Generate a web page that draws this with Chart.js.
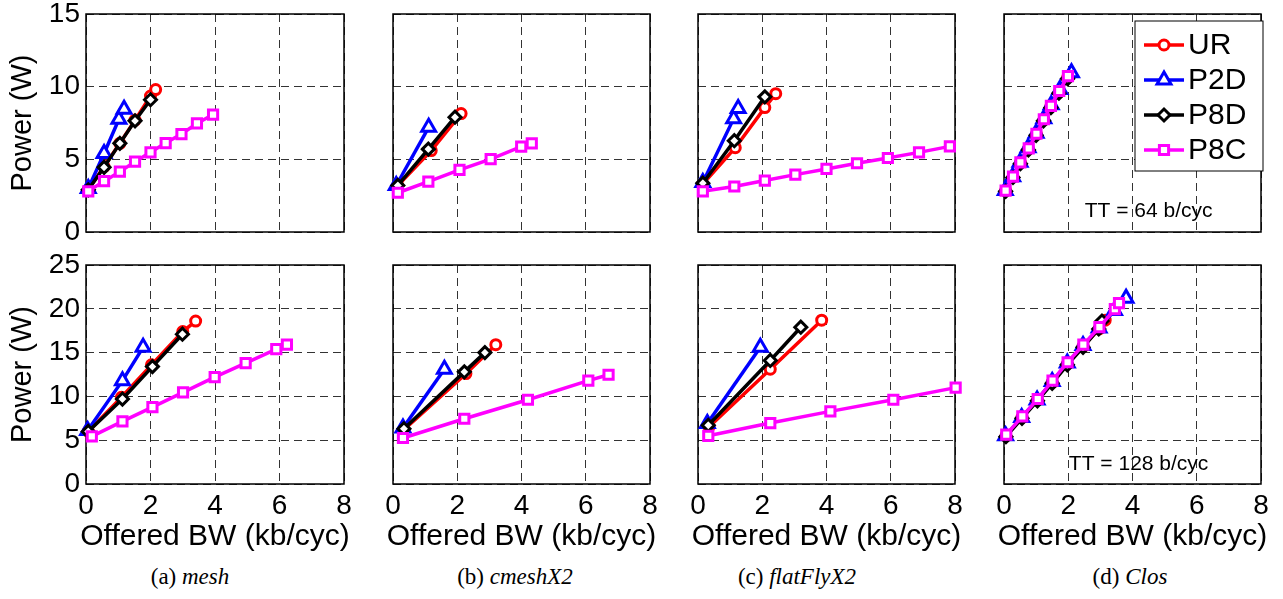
<!DOCTYPE html>
<html>
<head>
<meta charset="utf-8">
<script src="https://cdn.jsdelivr.net/npm/chart.js@4.4.1/dist/chart.umd.min.js"></script>
<style>
  body { margin: 0; background: #fff; width: 1283px; height: 599px; overflow: hidden; position: relative; }
  .panel { position: absolute; }
  .cap { position: absolute; top: 564px; font: 23px "Liberation Serif", "Times New Roman", serif; white-space: nowrap; transform: translateX(-50%); color: #000; }
</style>
</head>
<body>
<script>
// ---- data ----
var seriesNames = ['UR', 'P2D', 'P8D', 'P8C'];
var networks = ['mesh', 'cmeshX2', 'flatFlyX2', 'Clos'];
var letters = ['a', 'b', 'c', 'd'];
var xTicks = [0, 2, 4, 6, 8];
var yTicks64 = [0, 5, 10, 15];
var yTicks128 = [0, 5, 10, 15, 20, 25];

// TT = 64 b/cyc  (offered BW kb/cyc, power W)
var mesh64UR  = [[0.07, 2.9], [0.56, 4.5], [1.05, 6.1], [1.52, 7.7], [2.0, 9.35], [2.16, 9.8]];
var mesh64P2D = [[0.07, 3.0], [0.56, 5.4], [1.02, 7.75], [1.18, 8.45]];
var mesh64P8D = [[0.07, 2.9], [0.56, 4.45], [1.05, 6.1], [1.52, 7.65], [2.0, 9.1]];
var mesh64P8C = [[0.07, 2.8], [0.56, 3.5], [1.05, 4.15], [1.52, 4.84], [2.0, 5.48], [2.47, 6.12], [2.96, 6.74], [3.44, 7.47], [3.94, 8.08]];

var cmesh64UR  = [[0.15, 3.2], [1.19, 5.6], [2.12, 8.15]];
var cmesh64P2D = [[0.1, 3.2], [1.11, 7.2]];
var cmesh64P8D = [[0.15, 3.2], [1.1, 5.7], [1.93, 7.9]];
var cmesh64P8C = [[0.15, 2.7], [1.1, 3.47], [2.07, 4.27], [3.04, 5.02], [3.99, 5.87], [4.32, 6.1]];

var fly64UR  = [[0.15, 3.3], [1.16, 5.8], [2.08, 8.56], [2.42, 9.52]];
var fly64P2D = [[0.15, 3.4], [1.11, 7.8], [1.25, 8.5]];
var fly64P8D = [[0.15, 3.36], [1.13, 6.28], [2.08, 9.3]];
var fly64P8C = [[0.15, 2.8], [1.13, 3.13], [2.08, 3.54], [3.03, 3.95], [4.0, 4.34], [4.95, 4.73], [5.91, 5.09], [6.88, 5.48], [7.84, 5.89]];

var clos64UR  = [[0.05, 2.85], [0.28, 3.8], [0.51, 4.78], [0.76, 5.72], [1.01, 6.72], [1.24, 7.72], [1.46, 8.65], [1.72, 9.65], [1.99, 10.65]];
var clos64P2D = [[0.04, 2.85], [0.27, 3.8], [0.5, 4.8], [0.75, 5.8], [1.0, 6.8], [1.24, 7.8], [1.47, 8.75], [1.74, 9.8], [2.1, 10.95]];
var clos64P8D = [[0.05, 2.8], [0.28, 3.75], [0.51, 4.7], [0.76, 5.65], [1.0, 6.65], [1.23, 7.65], [1.46, 8.55], [1.71, 9.55], [1.98, 10.55]];
var clos64P8C = [[0.05, 2.85], [0.28, 3.81], [0.51, 4.79], [0.77, 5.75], [1.01, 6.76], [1.24, 7.76], [1.46, 8.68], [1.72, 9.7], [1.99, 10.73]];

// TT = 128 b/cyc
var mesh128UR  = [[0.07, 6.0], [1.1, 9.9], [2.03, 13.6], [3.0, 17.4], [3.4, 18.6]];
var mesh128P2D = [[0.05, 6.1], [1.13, 11.8], [1.77, 15.6]];
var mesh128P8D = [[0.07, 6.0], [1.13, 9.7], [2.06, 13.4], [2.99, 17.1]];
var mesh128P8C = [[0.18, 5.44], [1.13, 7.15], [2.06, 8.78], [3.01, 10.46], [3.99, 12.2], [4.95, 13.8], [5.9, 15.4], [6.23, 15.9]];

var cmesh128UR  = [[0.34, 6.2], [2.27, 12.6], [3.2, 15.9]];
var cmesh128P2D = [[0.31, 6.4], [1.6, 13.1]];
var cmesh128P8D = [[0.34, 6.3], [2.22, 12.8], [2.86, 15.0]];
var cmesh128P8C = [[0.31, 5.25], [2.22, 7.45], [4.2, 9.62], [6.08, 11.8], [6.71, 12.47]];

var fly128UR  = [[0.34, 6.5], [2.25, 13.1], [3.85, 18.7]];
var fly128P2D = [[0.29, 6.9], [1.94, 15.6]];
var fly128P8D = [[0.32, 6.7], [2.25, 14.1], [3.2, 17.9]];
var fly128P8C = [[0.32, 5.5], [2.25, 6.96], [4.12, 8.29], [6.08, 9.62], [8.02, 11.0]];

var clos128UR  = [[0.06, 5.5], [0.56, 7.6], [1.04, 9.6], [1.5, 11.6], [1.97, 13.7], [2.46, 15.7], [2.96, 17.7], [3.15, 18.7]];
var clos128P2D = [[0.05, 5.5], [0.55, 7.6], [1.03, 9.6], [1.5, 11.7], [1.97, 13.8], [2.46, 15.8], [2.96, 17.8], [3.44, 19.8], [3.8, 21.2]];
var clos128P8D = [[0.06, 5.4], [0.56, 7.5], [1.04, 9.5], [1.5, 11.5], [1.97, 13.6], [2.46, 15.6], [2.95, 17.7], [3.05, 18.6]];
var clos128P8C = [[0.07, 5.63], [0.57, 7.72], [1.05, 9.7], [1.51, 11.8], [1.98, 13.9], [2.47, 15.9], [2.97, 17.9], [3.45, 19.96], [3.58, 20.65]];

var rows = [
  { tt: 64, yTicks: yTicks64, sets: [
    [mesh64UR, mesh64P2D, mesh64P8D, mesh64P8C],
    [cmesh64UR, cmesh64P2D, cmesh64P8D, cmesh64P8C],
    [fly64UR, fly64P2D, fly64P8D, fly64P8C],
    [clos64UR, clos64P2D, clos64P8D, clos64P8C]] },
  { tt: 128, yTicks: yTicks128, sets: [
    [mesh128UR, mesh128P2D, mesh128P8D, mesh128P8C],
    [cmesh128UR, cmesh128P2D, cmesh128P8D, cmesh128P8C],
    [fly128UR, fly128P2D, fly128P8D, fly128P8C],
    [clos128UR, clos128P2D, clos128P8D, clos128P8C]] }
];

// ---- styles / layout ----
var styles = [
  { color: '#ff0000', point: 'circle', r: 5 },
  { color: '#0000ff', point: 'triangle', r: 8 },
  { color: '#000000', point: 'rectRot', r: 6 },
  { color: '#ff00ff', point: 'rect', r: 6.5 }
];
var plotLeft = [86, 392, 697, 1003];
var plotTop = [14, 265];
var plotW = 258, plotH = 219;
var capX = [190, 515, 797, 1130];
var FONT = '"Liberation Sans", Arial, Helvetica, sans-serif';

function marker(ctx, st, x, y) {
  ctx.save();
  ctx.fillStyle = '#fff';
  ctx.strokeStyle = st.color;
  ctx.lineWidth = 3;
  Chart.helpers.drawPoint(ctx, { pointStyle: st.point, radius: st.r, borderWidth: 3, rotation: 0 }, x, y);
  ctx.restore();
}

var framePlugin = {
  id: 'frame',
  beforeDatasetsDraw: function (chart) {
    var a = chart.chartArea, ctx = chart.ctx;
    ctx.save();
    ctx.strokeStyle = '#000';
    ctx.lineWidth = 1.5;
    ctx.strokeRect(a.left, a.top, a.right - a.left, a.bottom - a.top);
    ctx.restore();
  }
};

// x-axis title drawn without Chart.js' maxWidth squeeze
var xTitlePlugin = {
  id: 'xTitle',
  afterDraw: function (chart, args, opts) {
    if (!opts.text) return;
    var a = chart.chartArea, ctx = chart.ctx;
    ctx.save();
    ctx.fillStyle = '#000';
    ctx.font = '30px ' + FONT;
    ctx.textAlign = 'center';
    ctx.textBaseline = 'middle';
    ctx.fillText(opts.text, (a.left + a.right) / 2, a.bottom + 53);
    ctx.restore();
  }
};

var notePlugin = {
  id: 'note',
  afterDraw: function (chart, args, opts) {
    if (!opts.text) return;
    var ctx = chart.ctx;
    ctx.save();
    ctx.fillStyle = '#000';
    ctx.font = '21px ' + FONT;
    ctx.textAlign = 'center';
    ctx.textBaseline = 'middle';
    ctx.fillText(opts.text, chart.scales.x.getPixelForValue(opts.x), chart.scales.y.getPixelForValue(opts.y));
    if (opts.legend) {
      var a = chart.chartArea;
      var w = 128, h = 150;
      var lx = a.right + 2 - w, ly = a.top + 7;
      ctx.fillStyle = '#fff';
      ctx.fillRect(lx, ly, w, h);
      ctx.strokeStyle = '#000';
      ctx.lineWidth = 1;
      ctx.strokeRect(lx, ly, w, h);
      ctx.font = '30px ' + FONT;
      ctx.textAlign = 'left';
      for (var i = 0; i < seriesNames.length; i++) {
        var yy = ly + 24 + i * 35;
        ctx.strokeStyle = styles[i].color;
        ctx.lineWidth = 3.5;
        ctx.beginPath();
        ctx.moveTo(lx + 9, yy);
        ctx.lineTo(lx + 49, yy);
        ctx.stroke();
        marker(ctx, styles[i], lx + 29, yy);
        ctx.fillStyle = '#000';
        ctx.fillText(seriesNames[i], lx + 53, yy + 1);
      }
    }
    ctx.restore();
  }
};

function makePanel(r, c) {
  var row = rows[r];
  var L = c === 0 ? 86 : 10, T = r === 0 ? 14 : 25, R = 24, B = r === 0 ? 10 : 74;
  var div = document.createElement('div');
  div.className = 'panel';
  div.style.left = (plotLeft[c] - L) + 'px';
  div.style.top = (plotTop[r] - T) + 'px';
  div.style.width = (L + plotW + R) + 'px';
  div.style.height = (T + plotH + B) + 'px';
  var cv = document.createElement('canvas');
  div.appendChild(cv);
  document.body.appendChild(div);

  var datasets = row.sets[c].map(function (pts, i) {
    var st = styles[i];
    return {
      label: seriesNames[i],
      data: pts.map(function (p) { return { x: p[0], y: p[1] }; }),
      showLine: true,
      borderColor: st.color,
      borderWidth: 3.5,
      pointStyle: st.point,
      pointRadius: st.r,
      pointBorderWidth: 3,
      pointBorderColor: st.color,
      pointBackgroundColor: '#fff',
      clip: 12,
      order: 4 - i
    };
  });
  var yt = row.yTicks;
  var isClos = c === 3;

  new Chart(cv, {
    type: 'scatter',
    data: { datasets: datasets },
    plugins: [framePlugin, xTitlePlugin, notePlugin],
    options: {
      animation: false,
      responsive: true,
      maintainAspectRatio: false,
      layout: { padding: { top: T, right: R, left: 0, bottom: 0 } },
      plugins: {
        legend: { display: false },
        tooltip: { enabled: false },
        xTitle: { text: r === 1 ? 'Offered BW (kb/cyc)' : '' },
        note: isClos ? (r === 0 ? { text: 'TT = 64 b/cyc', x: 4.5, y: 1.45, legend: true }
                                : { text: 'TT = 128 b/cyc', x: 4.19, y: 2.3 }) : {}
      },
      scales: {
        x: {
          type: 'linear', min: xTicks[0], max: xTicks[xTicks.length - 1],
          ticks: { stepSize: xTicks[1] - xTicks[0], display: r === 1, color: '#000', padding: 5, maxRotation: 0,
                   font: { family: FONT, size: 28 } },
          grid: { color: '#333', lineWidth: 1, drawTicks: false },
          border: { display: false, dash: [8, 5] },
          title: { display: false },
          afterFit: function (s) { s.height = B; s.paddingLeft = 0; s.paddingRight = 0; }
        },
        y: {
          min: yt[0], max: yt[yt.length - 1],
          ticks: { stepSize: yt[1] - yt[0], display: c === 0, color: '#000', padding: 6,
                   font: { family: FONT, size: 28 } },
          grid: { color: '#333', lineWidth: 1, drawTicks: false },
          border: { display: false, dash: [8, 5] },
          title: { display: c === 0, text: 'Power (W)', color: '#000',
                   font: { family: FONT, size: 29 }, padding: { top: 6, bottom: 0 } },
          afterFit: function (s) { s.width = L; s.paddingTop = 0; s.paddingBottom = 0; }
        }
      }
    }
  });
}

for (var r = 0; r < rows.length; r++) {
  for (var c = 0; c < networks.length; c++) makePanel(r, c);
}
for (var k = 0; k < networks.length; k++) {
  var d = document.createElement('div');
  d.className = 'cap';
  d.style.left = capX[k] + 'px';
  d.innerHTML = '(' + letters[k] + ') <i>' + networks[k] + '</i>';
  document.body.appendChild(d);
}
</script>
</body>
</html>
